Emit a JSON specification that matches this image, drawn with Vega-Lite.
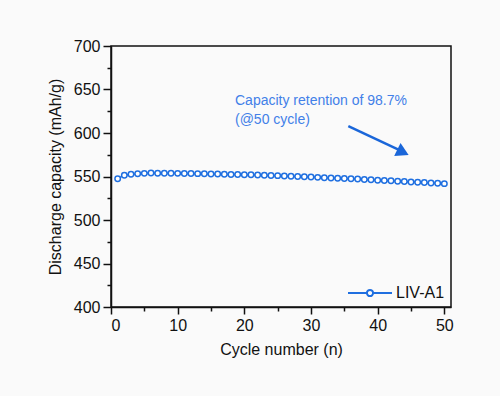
{
  "$schema": "https://vega.github.io/schema/vega-lite/v6.json",
  "autosize": "none",
  "width": 340,
  "height": 261,
  "padding": {"left": 111, "top": 46, "right": 49, "bottom": 89},
  "background": "#fafafa",
  "config": {
    "view": {"stroke": "#111111", "strokeWidth": 1.5},
    "font": "Liberation Sans",
    "axis": {
      "grid": false,
      "domainColor": "#111111",
      "domainWidth": 1.5,
      "tickColor": "#111111",
      "tickWidth": 1.5,
      "labelFont": "Liberation Sans",
      "labelFontSize": 16,
      "labelColor": "#111111",
      "titleFont": "Liberation Sans",
      "titleFontSize": 16,
      "titleFontWeight": "normal",
      "titleColor": "#111111"
    }
  },
  "datasets": {
    "cap": [
      {"cycle": 1, "capacity": 547.5, "series": "LIV-A1"},
      {"cycle": 2, "capacity": 551.5, "series": "LIV-A1"},
      {"cycle": 3, "capacity": 552.5, "series": "LIV-A1"},
      {"cycle": 4, "capacity": 553.2, "series": "LIV-A1"},
      {"cycle": 5, "capacity": 553.6, "series": "LIV-A1"},
      {"cycle": 6, "capacity": 554.0, "series": "LIV-A1"},
      {"cycle": 7, "capacity": 553.8, "series": "LIV-A1"},
      {"cycle": 8, "capacity": 553.8, "series": "LIV-A1"},
      {"cycle": 9, "capacity": 553.7, "series": "LIV-A1"},
      {"cycle": 10, "capacity": 553.6, "series": "LIV-A1"},
      {"cycle": 11, "capacity": 553.5, "series": "LIV-A1"},
      {"cycle": 12, "capacity": 553.4, "series": "LIV-A1"},
      {"cycle": 13, "capacity": 553.3, "series": "LIV-A1"},
      {"cycle": 14, "capacity": 553.1, "series": "LIV-A1"},
      {"cycle": 15, "capacity": 553.0, "series": "LIV-A1"},
      {"cycle": 16, "capacity": 552.8, "series": "LIV-A1"},
      {"cycle": 17, "capacity": 552.6, "series": "LIV-A1"},
      {"cycle": 18, "capacity": 552.4, "series": "LIV-A1"},
      {"cycle": 19, "capacity": 552.3, "series": "LIV-A1"},
      {"cycle": 20, "capacity": 552.1, "series": "LIV-A1"},
      {"cycle": 21, "capacity": 551.9, "series": "LIV-A1"},
      {"cycle": 22, "capacity": 551.7, "series": "LIV-A1"},
      {"cycle": 23, "capacity": 551.5, "series": "LIV-A1"},
      {"cycle": 24, "capacity": 551.2, "series": "LIV-A1"},
      {"cycle": 25, "capacity": 551.0, "series": "LIV-A1"},
      {"cycle": 26, "capacity": 550.6, "series": "LIV-A1"},
      {"cycle": 27, "capacity": 550.3, "series": "LIV-A1"},
      {"cycle": 28, "capacity": 550.0, "series": "LIV-A1"},
      {"cycle": 29, "capacity": 549.7, "series": "LIV-A1"},
      {"cycle": 30, "capacity": 549.3, "series": "LIV-A1"},
      {"cycle": 31, "capacity": 549.0, "series": "LIV-A1"},
      {"cycle": 32, "capacity": 548.6, "series": "LIV-A1"},
      {"cycle": 33, "capacity": 548.3, "series": "LIV-A1"},
      {"cycle": 34, "capacity": 548.0, "series": "LIV-A1"},
      {"cycle": 35, "capacity": 547.6, "series": "LIV-A1"},
      {"cycle": 36, "capacity": 547.3, "series": "LIV-A1"},
      {"cycle": 37, "capacity": 547.0, "series": "LIV-A1"},
      {"cycle": 38, "capacity": 546.6, "series": "LIV-A1"},
      {"cycle": 39, "capacity": 546.2, "series": "LIV-A1"},
      {"cycle": 40, "capacity": 545.8, "series": "LIV-A1"},
      {"cycle": 41, "capacity": 545.4, "series": "LIV-A1"},
      {"cycle": 42, "capacity": 545.0, "series": "LIV-A1"},
      {"cycle": 43, "capacity": 544.6, "series": "LIV-A1"},
      {"cycle": 44, "capacity": 544.2, "series": "LIV-A1"},
      {"cycle": 45, "capacity": 543.8, "series": "LIV-A1"},
      {"cycle": 46, "capacity": 543.4, "series": "LIV-A1"},
      {"cycle": 47, "capacity": 543.0, "series": "LIV-A1"},
      {"cycle": 48, "capacity": 542.6, "series": "LIV-A1"},
      {"cycle": 49, "capacity": 542.2, "series": "LIV-A1"},
      {"cycle": 50, "capacity": 541.8, "series": "LIV-A1"}
    ],
    "notes": [
      {"x": 18.6, "y": 632, "label": "Capacity retention of 98.7%"},
      {"x": 18.6, "y": 610, "label": "(@50 cycle)"}
    ],
    "arrow": [
      {"x": 35.6, "y": 608, "x2": 43.2, "y2": 580.5, "hx": 43.8, "hy": 578}
    ]
  },
  "encoding": {
    "x": {
      "field": "cycle", "type": "quantitative",
      "scale": {"domain": [0, 51], "nice": false, "zero": false},
      "axis": {
        "title": "Cycle number (n)",
        "values": [0, 5, 10, 15, 20, 25, 30, 35, 40, 45, 50],
        "labelExpr": "datum.value % 10 === 0 ? datum.label : ''",
        "tickSize": {"condition": {"test": "datum.value % 10 === 0", "value": 7}, "value": 4},
        "labelPadding": 3,
        "titlePadding": 8
      }
    },
    "y": {
      "field": "capacity", "type": "quantitative",
      "scale": {"domain": [400, 700], "nice": false, "zero": false},
      "axis": {
        "title": "Discharge capacity (mAh/g)",
        "values": [400, 425, 450, 475, 500, 525, 550, 575, 600, 625, 650, 675, 700],
        "labelExpr": "datum.value % 50 === 0 ? datum.label : ''",
        "tickSize": {"condition": {"test": "datum.value % 50 === 0", "value": 8}, "value": 4},
        "labelPadding": 3,
        "titlePadding": 10
      }
    }
  },
  "layer": [
    {
      "data": {"name": "cap"},
      "mark": {"type": "line", "strokeWidth": 1.5},
      "encoding": {
        "color": {
          "field": "series", "type": "nominal",
          "scale": {"range": ["#1f6fe0"]},
          "legend": {
            "title": null,
            "orient": "bottom-right",
            "offset": 6,
            "symbolType": "M-1,0H-0.14M0.14,0H1M0.14,0A0.14,0.14 0 1,1 -0.14,0A0.14,0.14 0 1,1 0.14,0",
            "symbolSize": 1936,
            "symbolStrokeWidth": 2,
            "symbolFillColor": "transparent",
            "symbolStrokeColor": "#1f6fe0",
            "labelFontSize": 16,
            "labelFont": "Liberation Sans",
            "labelColor": "#111111",
            "labelOffset": 3
          }
        }
      }
    },
    {
      "data": {"name": "cap"},
      "mark": {"type": "point", "shape": "circle", "filled": false, "fill": "#ffffff", "fillOpacity": 1, "size": 30, "strokeWidth": 1.5, "color": "#1f6fe0"}
    },
    {
      "data": {"name": "notes"},
      "mark": {"type": "text", "align": "left", "baseline": "alphabetic", "fontSize": 14, "font": "Liberation Sans", "color": "#4280e8"},
      "encoding": {
        "x": {"field": "x", "type": "quantitative"},
        "y": {"field": "y", "type": "quantitative"},
        "text": {"field": "label"}
      }
    },
    {
      "data": {"name": "arrow"},
      "mark": {"type": "rule", "strokeWidth": 2.5, "color": "#1a66d9"},
      "encoding": {
        "x": {"field": "x", "type": "quantitative"},
        "y": {"field": "y", "type": "quantitative"},
        "x2": {"field": "x2"},
        "y2": {"field": "y2"}
      }
    },
    {
      "data": {"name": "arrow"},
      "mark": {"type": "point", "shape": "triangle-right", "filled": true, "size": 210, "angle": 26, "color": "#1a66d9", "opacity": 1},
      "encoding": {
        "x": {"field": "hx", "type": "quantitative"},
        "y": {"field": "hy", "type": "quantitative"}
      }
    }
  ]
}
